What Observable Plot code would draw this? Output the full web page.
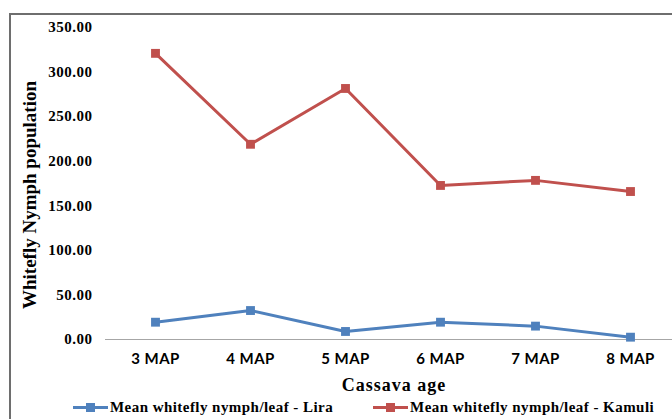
<!DOCTYPE html>
<html>
<head>
<meta charset="utf-8">
<script src="https://cdn.jsdelivr.net/npm/d3@7"></script>
<script src="https://cdn.jsdelivr.net/npm/@observablehq/plot@0.6"></script>
<style>
  html, body { margin: 0; padding: 0; background: #fff; }
  #wrap { position: relative; width: 672px; height: 419px; overflow: hidden; background: #fff; }
  #frame { position: absolute; left: 9px; top: 13px; width: 700px; height: 420px;
           border-left: 2px solid #6e6e6e; border-top: 2px solid #6e6e6e; box-sizing: border-box; }
  #chart { position: absolute; left: 0; top: 0; }
  #chart svg g[aria-label^="y-axis"] text { font: bold 15px "Liberation Serif", serif; letter-spacing: 0.5px; fill: #000; }
  #chart svg g[aria-label^="x-axis"] text { font: bold 15px Lato, sans-serif; letter-spacing: 0.5px; fill: #000; }
  .ttl { position: absolute; font: bold 19px "Liberation Serif", serif; color: #000; white-space: nowrap; }
  #ytitle { left: 30px; top: 195px; transform: translate(-50%, -50%) rotate(-90deg); }
  #xtitle { left: 394px; top: 385px; font-size: 18px; letter-spacing: 1px; transform: translate(-50%, -50%); }
  #legend { position: absolute; left: 73px; top: 398px; display: flex; align-items: center;
            font: bold 15px "Liberation Serif", serif; letter-spacing: 0.45px; color: #000; white-space: nowrap; }
  .item { display: flex; align-items: center; margin-right: 40px; }
  .sw { position: relative; width: 35px; height: 18px; margin-right: 2px; }
  .sw .ln { position: absolute; left: 0; right: 0; top: 8px; height: 3px; }
  .sw .sq { position: absolute; left: 13px; top: 5px; width: 9px; height: 9px; }
</style>
</head>
<body>
<div id="wrap">
  <div id="frame"></div>
  <div id="chart"></div>
  <div id="ytitle" class="ttl">Whitefly Nymph population</div>
  <div id="xtitle" class="ttl">Cassava age</div>
  <div id="legend"></div>
</div>
<script>
const ages = ["3 MAP", "4 MAP", "5 MAP", "6 MAP", "7 MAP", "8 MAP"];
const lira = [19.4, 32.5, 9.0, 19.4, 15.0, 2.6];
const kamuli = [321.0, 219.0, 281.6, 172.8, 178.5, 166.0];
const yTicks = [0, 50, 100, 150, 200, 250, 300, 350];
const seriesNames = ["Mean whitefly nymph/leaf - Lira", "Mean whitefly nymph/leaf - Kamuli"];
const seriesColors = ["#4f81bd", "#c0504d"];

const data = [];
ages.forEach((a, i) => {
  data.push({age: a, value: lira[i], series: seriesNames[0]});
  data.push({age: a, value: kamuli[i], series: seriesNames[1]});
});

const chart = Plot.plot({
  width: 672,
  height: 419,
  marginLeft: 105,
  marginRight: 0,
  marginTop: 20,
  marginBottom: 80,
  style: {background: "transparent", overflow: "visible"},
  x: {type: "point", domain: ages, range: [105, 679], padding: 0.5, label: null, tickSize: 0, tickPadding: 14},
  y: {domain: [0, 350], range: [339, 27], ticks: yTicks, tickFormat: d => d.toFixed(2), tickSize: 0, tickPadding: 13, label: null},
  color: {domain: seriesNames, range: seriesColors},
  marks: [
    Plot.ruleY([0], {stroke: "#a6a6a6", strokeWidth: 1.2}),
    Plot.line(data, {x: "age", y: "value", z: "series", stroke: "series", strokeWidth: 3}),
    Plot.dot(data, {x: "age", y: "value", fill: "series", symbol: "square", r: 5, stroke: "none"})
  ]
});
document.getElementById("chart").appendChild(chart);

const legend = document.getElementById("legend");
seriesNames.forEach((name, i) => {
  const item = document.createElement("div");
  item.className = "item";
  item.innerHTML = `<div class="sw"><div class="ln" style="background:${seriesColors[i]}"></div><div class="sq" style="background:${seriesColors[i]}"></div></div><span>${name}</span>`;
  legend.appendChild(item);
});
</script>
</body>
</html>
